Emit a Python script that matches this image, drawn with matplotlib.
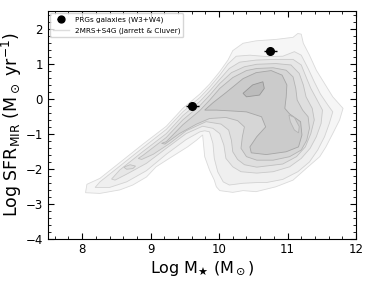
import matplotlib
matplotlib.use("Agg")
import matplotlib.pyplot as plt
from matplotlib.ticker import AutoMinorLocator

# PRG galaxies (W3+W4)
prg_mass = [9.61, 10.75]
prg_sfr = [-0.20, 1.35]
prg_mass_err = [0.09, 0.09]

# 2MRS+S4G density contours, outer (1) to inner (7)
level1 = [(8.05, -2.69), (8.07, -2.45), (8.26, -2.28), (8.55, -1.83), (8.89, -1.30), (9.23, -0.79),
          (9.47, -0.28), (9.72, 0.13), (9.86, 0.41), (10.01, 0.77), (10.13, 1.10), (10.20, 1.37),
          (10.35, 1.58), (10.54, 1.65), (10.83, 1.69), (11.08, 1.75), (11.15, 1.86), (11.20, 1.84),
          (11.23, 1.58), (11.32, 1.24), (11.42, 0.81), (11.54, 0.43), (11.66, 0.05), (11.81, -0.28),
          (11.76, -0.61), (11.66, -1.00), (11.56, -1.38), (11.47, -1.66), (11.27, -2.00), (11.08, -2.33),
          (10.83, -2.52), (10.54, -2.66), (10.35, -2.63), (10.20, -2.68), (10.01, -2.63), (9.96, -2.52),
          (9.93, -2.33), (9.86, -2.04), (9.79, -1.66), (9.76, -1.04), (9.67, -1.19), (9.54, -1.38),
          (9.28, -1.70), (9.08, -1.95), (8.94, -2.24), (8.74, -2.47), (8.55, -2.61), (8.26, -2.71)]
level2 = [(8.19, -2.54), (8.26, -2.38), (8.55, -1.93), (8.89, -1.40), (9.23, -0.88), (9.47, -0.38),
          (9.72, 0.03), (9.86, 0.32), (10.01, 0.67), (10.13, 0.99), (10.25, 1.21), (10.45, 1.24),
          (10.69, 1.20), (10.93, 1.21), (11.10, 1.34), (11.20, 1.24), (11.30, 0.86), (11.39, 0.48),
          (11.48, 0.13), (11.59, -0.19), (11.66, -0.38), (11.61, -0.71), (11.54, -1.09), (11.44, -1.47),
          (11.32, -1.81), (11.15, -2.09), (10.93, -2.31), (10.69, -2.40), (10.55, -2.40), (10.35, -2.42),
          (10.15, -2.47), (10.06, -2.38), (9.98, -2.09), (9.93, -1.71), (9.91, -1.28), (9.86, -0.95),
          (9.79, -0.92), (9.72, -0.95), (9.52, -1.17), (9.23, -1.59), (8.94, -2.06), (8.65, -2.38),
          (8.40, -2.54)]
level3 = [(8.43, -2.30), (8.55, -2.04), (8.89, -1.51), (9.23, -1.00), (9.47, -0.49), (9.72, -0.08),
          (9.86, 0.21), (10.01, 0.55), (10.15, 0.86), (10.30, 1.04), (10.54, 1.10), (10.83, 1.12),
          (11.08, 1.12), (11.20, 0.96), (11.27, 0.62), (11.34, 0.29), (11.42, 0.00), (11.51, -0.33),
          (11.49, -0.71), (11.42, -1.09), (11.33, -1.42), (11.20, -1.71), (11.03, -1.95), (10.79, -2.09),
          (10.55, -2.13), (10.32, -2.09), (10.20, -1.95), (10.10, -1.71), (10.07, -1.33), (10.01, -1.00),
          (9.91, -0.85), (9.76, -0.79), (9.52, -1.00), (9.23, -1.42), (8.94, -1.85), (8.65, -2.16),
          (8.48, -2.33)]
level4 = [(8.82, -1.71), (8.89, -1.62), (9.23, -1.11), (9.47, -0.61), (9.72, -0.20), (9.86, 0.09),
          (10.01, 0.43), (10.18, 0.74), (10.37, 0.91), (10.55, 0.98), (10.83, 1.00), (11.05, 0.96),
          (11.17, 0.72), (11.23, 0.39), (11.27, 0.05), (11.36, -0.28), (11.39, -0.61), (11.34, -1.00),
          (11.26, -1.38), (11.13, -1.66), (10.93, -1.87), (10.55, -1.96), (10.37, -1.89), (10.27, -1.74),
          (10.20, -1.52), (10.18, -1.19), (10.14, -0.90), (10.03, -0.73), (9.81, -0.66), (9.52, -0.92),
          (9.28, -1.28), (9.04, -1.59), (8.87, -1.74)]
level4_island = [(8.61, -1.96), (8.70, -1.89), (8.78, -1.93), (8.74, -2.00), (8.65, -2.02)]
level5 = [(9.16, -1.28), (9.23, -1.23), (9.47, -0.75), (9.72, -0.34), (9.86, -0.05), (10.01, 0.29),
          (10.20, 0.60), (10.40, 0.80), (10.55, 0.86), (10.79, 0.88), (10.98, 0.81), (11.08, 0.62),
          (11.12, 0.29), (11.14, -0.04), (11.22, -0.33), (11.30, -0.52), (11.32, -0.85), (11.28, -1.19),
          (11.20, -1.47), (11.03, -1.66), (10.79, -1.76), (10.55, -1.76), (10.40, -1.66), (10.32, -1.42),
          (10.34, -1.09), (10.37, -0.81), (10.27, -0.63), (10.10, -0.54), (9.86, -0.57), (9.67, -0.73),
          (9.42, -1.00), (9.21, -1.30)]
level6 = [(9.79, -0.33), (9.91, -0.12), (10.10, 0.17), (10.35, 0.57), (10.54, 0.74), (10.76, 0.80),
          (10.92, 0.67), (10.99, 0.39), (10.98, 0.05), (10.96, -0.28), (11.03, -0.44), (11.19, -0.66),
          (11.21, -1.04), (11.16, -1.38), (10.98, -1.52), (10.69, -1.60), (10.47, -1.55), (10.45, -1.38),
          (10.55, -1.09), (10.68, -0.81), (10.62, -0.52), (10.40, -0.38), (10.15, -0.35), (9.96, -0.33)]
level5_finger = [(11.02, -0.47), (11.10, -0.54), (11.17, -0.80), (11.16, -0.98), (11.10, -0.90), (11.04, -0.66)]
level7 = [(10.35, 0.15), (10.49, 0.39), (10.64, 0.48), (10.66, 0.29), (10.59, 0.10), (10.40, 0.05)]

bands = [level1, level2, level3, level4, level4_island, level5, level6, level5_finger, level7]
fills = ['#f6f6f6', '#efefef', '#e7e7e7', '#dfdfdf', '#dfdfdf', '#d6d6d6', '#cbcbcb', '#d6d6d6', '#bcbcbc']
edges = ['#dadada', '#d2d2d2', '#c9c9c9', '#bfbfbf', '#bfbfbf', '#b3b3b3', '#a5a5a5', '#b3b3b3', '#959595']

fig = plt.figure(figsize=(3.74, 2.84), dpi=100)
ax = fig.add_axes([0.128, 0.160, 0.824, 0.801])

for poly, fc, ec in zip(bands, fills, edges):
    xs, ys = zip(*poly)
    ax.fill(xs, ys, facecolor=fc, edgecolor=ec, linewidth=0.6, zorder=1)

prg = ax.errorbar(prg_mass, prg_sfr, xerr=prg_mass_err, fmt='o', color='black', ms=5.5,
                  elinewidth=1.0, capsize=0, zorder=5)
survey, = ax.plot([], [], color='#dddddd', lw=1)

ax.set_xlim(7.5, 12)
ax.set_ylim(-4, 2.5)
ax.set_xticks([8, 9, 10, 11, 12])
ax.set_yticks([-4, -3, -2, -1, 0, 1, 2])
ax.xaxis.set_minor_locator(AutoMinorLocator(5))
ax.yaxis.set_minor_locator(AutoMinorLocator(5))
ax.tick_params(which='both', direction='in', top=True, right=True, labelsize=8.5)
ax.tick_params(which='major', length=4, width=0.8)
ax.tick_params(which='minor', length=2, width=0.6)

ax.set_xlabel(r'Log M$_\bigstar$ (M$_\odot$)', fontsize=11.5, labelpad=2)
ax.set_ylabel(r'Log SFR$_{\mathrm{MIR}}$ (M$_\odot$ yr$^{-1}$)', fontsize=12.5, labelpad=1)

leg = ax.legend([prg, survey], ['PRGs galaxies (W3+W4)', '2MRS+S4G (Jarrett & Cluver)'],
                loc='upper left', fontsize=5.2, frameon=True, borderaxespad=0.3,
                handlelength=2.2, labelspacing=0.7, markerscale=0.9)
leg.get_frame().set_edgecolor('#cccccc')

fig.savefig('out.png', dpi=100)
